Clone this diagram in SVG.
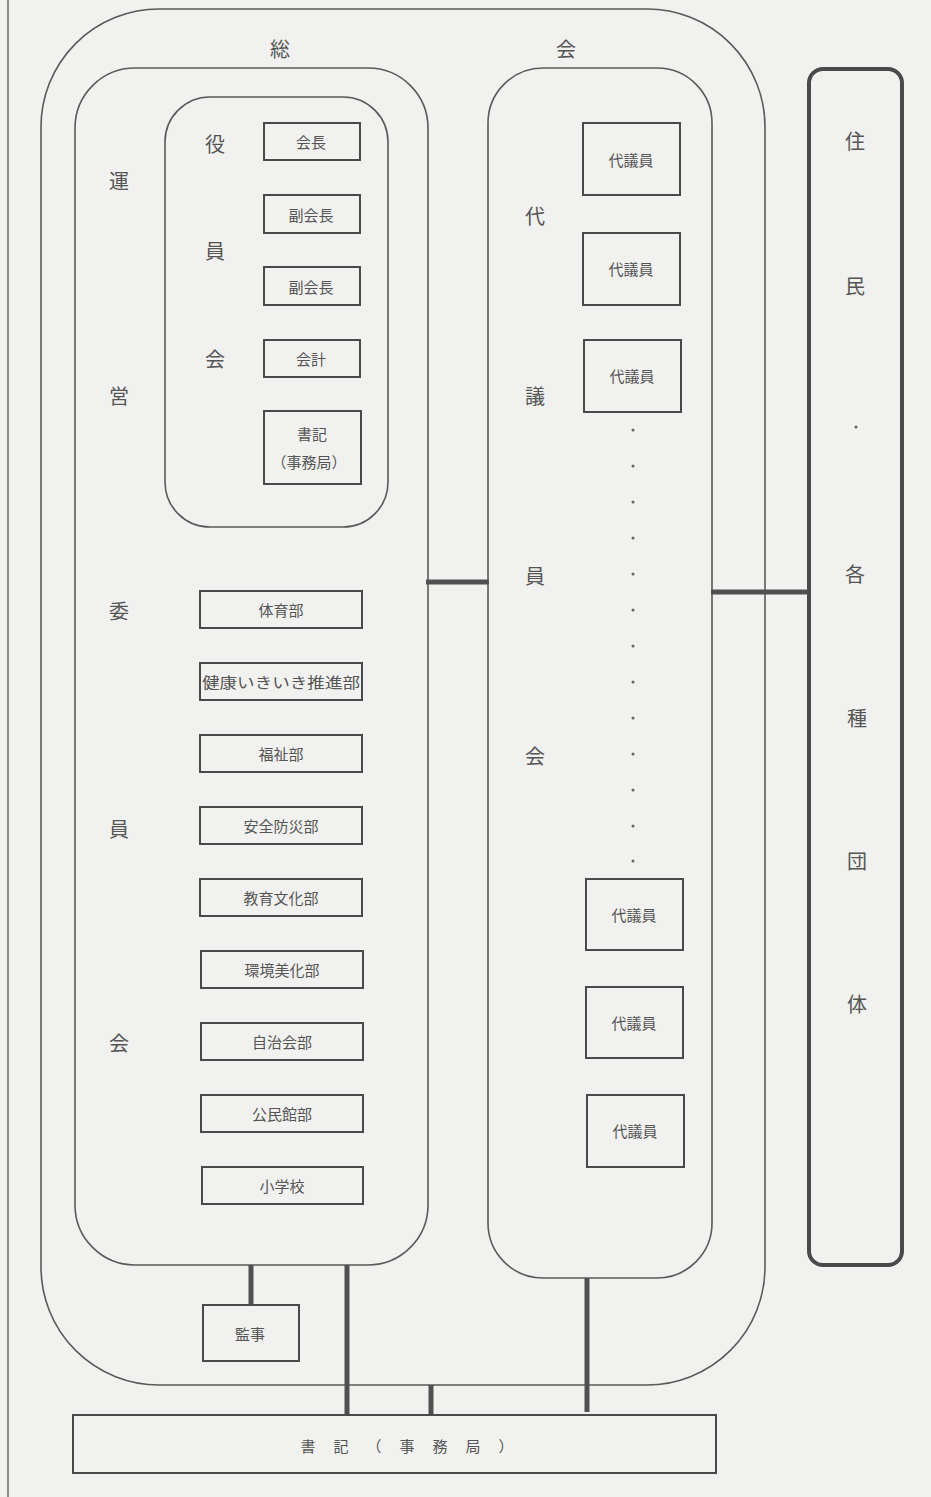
<svg xmlns="http://www.w3.org/2000/svg" width="931" height="1497" viewBox="0 0 931 1497">
<style>
.bg{fill:#f1f1ef}
.frame{fill:none;stroke:#666;stroke-width:1.5}
.rr{fill:none;stroke:#5a5a5a;stroke-width:1.6}
.box{fill:none;stroke:#4a4a4a;stroke-width:2}
.thick{fill:none;stroke:#4a4a4a;stroke-width:4}
.conn{stroke:#505050;stroke-width:5;fill:none}
.lab{font-family:"Noto Sans CJK JP","Noto Sans",sans-serif;font-size:20px;fill:#555;text-anchor:middle;dominant-baseline:central}
.t{font-family:"Noto Sans CJK JP","Noto Sans",sans-serif;font-size:15px;fill:#555;text-anchor:middle;dominant-baseline:central}
.dot{fill:#666}
</style>
<rect class="bg" x="0" y="0" width="931" height="1497"/>
<line class="frame" x1="8" y1="0" x2="8" y2="1497"/>

<g id="soukai">
<rect class="rr" x="41" y="9" width="724" height="1376" rx="118" ry="118"/>
<text class="lab" x="280" y="48">総</text>
<text class="lab" x="566" y="48">会</text>
</g>

<g id="unei">
<rect class="rr" x="75" y="68" width="353" height="1197" rx="60" ry="60"/>
<text class="lab" x="119" y="180">運</text>
<text class="lab" x="119" y="395">営</text>
<text class="lab" x="119" y="610">委</text>
<text class="lab" x="119" y="828">員</text>
<text class="lab" x="119" y="1042">会</text>
</g>

<g id="yakuin">
<rect class="rr" x="165" y="97" width="223" height="430" rx="45" ry="45"/>
<text class="lab" x="215" y="143">役</text>
<text class="lab" x="215" y="250">員</text>
<text class="lab" x="215" y="358">会</text>
</g>

<g id="kaicho"><rect class="box" x="264" y="123" width="96" height="37"/><text class="t" x="311" y="141">会長</text></g>
<g id="fuku1"><rect class="box" x="264" y="195" width="96" height="38"/><text class="t" x="311" y="214">副会長</text></g>
<g id="fuku2"><rect class="box" x="264" y="267" width="96" height="38"/><text class="t" x="311" y="286">副会長</text></g>
<g id="kaikei"><rect class="box" x="264" y="340" width="96" height="37"/><text class="t" x="311" y="358">会計</text></g>
<g id="shoki1"><rect class="box" x="264" y="411" width="97" height="73"/><text class="t" x="312" y="433">書記</text><text class="t" x="309" y="461">（事務局）</text></g>

<g id="b1"><rect class="box" x="200" y="591" width="162" height="37"/><text class="t" x="281" y="609">体育部</text></g>
<g id="b2"><rect class="box" x="200" y="663" width="162" height="37"/><text class="t" x="281" y="681" textLength="158" lengthAdjust="spacingAndGlyphs">健康いきいき推進部</text></g>
<g id="b3"><rect class="box" x="200" y="735" width="162" height="37"/><text class="t" x="281" y="753">福祉部</text></g>
<g id="b4"><rect class="box" x="200" y="807" width="162" height="37"/><text class="t" x="281" y="825">安全防災部</text></g>
<g id="b5"><rect class="box" x="200" y="879" width="162" height="37"/><text class="t" x="281" y="897">教育文化部</text></g>
<g id="b6"><rect class="box" x="201" y="951" width="162" height="37"/><text class="t" x="282" y="969">環境美化部</text></g>
<g id="b7"><rect class="box" x="201" y="1023" width="162" height="37"/><text class="t" x="282" y="1041">自治会部</text></g>
<g id="b8"><rect class="box" x="201" y="1095" width="162" height="37"/><text class="t" x="282" y="1113">公民館部</text></g>
<g id="b9"><rect class="box" x="202" y="1167" width="161" height="37"/><text class="t" x="282" y="1185">小学校</text></g>

<g id="daigiin">
<rect class="rr" x="488" y="68" width="224" height="1210" rx="55" ry="55"/>
<text class="lab" x="535" y="215">代</text>
<text class="lab" x="535" y="395">議</text>
<text class="lab" x="535" y="575">員</text>
<text class="lab" x="535" y="755">会</text>
</g>
<g id="d1"><rect class="box" x="583" y="123" width="97" height="72"/><text class="t" x="631" y="159">代議員</text></g>
<g id="d2"><rect class="box" x="583" y="233" width="97" height="72"/><text class="t" x="631" y="268">代議員</text></g>
<g id="d3"><rect class="box" x="584" y="340" width="97" height="72"/><text class="t" x="632" y="375">代議員</text></g>
<g id="dots">
<circle class="dot" cx="633" cy="430" r="1.5"/><circle class="dot" cx="633" cy="466" r="1.5"/><circle class="dot" cx="633" cy="502" r="1.5"/><circle class="dot" cx="633" cy="538" r="1.5"/><circle class="dot" cx="633" cy="574" r="1.5"/><circle class="dot" cx="633" cy="610" r="1.5"/><circle class="dot" cx="633" cy="646" r="1.5"/><circle class="dot" cx="633" cy="682" r="1.5"/><circle class="dot" cx="633" cy="718" r="1.5"/><circle class="dot" cx="633" cy="754" r="1.5"/><circle class="dot" cx="633" cy="790" r="1.5"/><circle class="dot" cx="633" cy="826" r="1.5"/><circle class="dot" cx="633" cy="861" r="1.5"/>
</g>
<g id="d4"><rect class="box" x="586" y="879" width="97" height="71"/><text class="t" x="634" y="914">代議員</text></g>
<g id="d5"><rect class="box" x="586" y="987" width="97" height="71"/><text class="t" x="634" y="1022">代議員</text></g>
<g id="d6"><rect class="box" x="587" y="1095" width="97" height="72"/><text class="t" x="635" y="1130">代議員</text></g>

<g id="jumin">
<rect class="thick" x="809" y="69" width="93" height="1196" rx="14" ry="14"/>
<text class="lab" x="855" y="140">住</text>
<text class="lab" x="855" y="285">民</text>
<circle class="dot" cx="856" cy="427" r="1.6"/>
<text class="lab" x="855" y="573">各</text>
<text class="lab" x="857" y="717">種</text>
<text class="lab" x="857" y="860">団</text>
<text class="lab" x="857" y="1003">体</text>
</g>

<g id="kanji"><rect class="box" x="203" y="1305" width="96" height="56"/><text class="t" x="250" y="1333">監事</text></g>

<g id="shoki2"><rect class="box" x="73" y="1415" width="643" height="58"/><text class="t" x="416" y="1445" letter-spacing="18">書記（事務局）</text></g>

<g id="connectors">
<line class="conn" x1="426" y1="582" x2="489" y2="582"/>
<line class="conn" x1="711" y1="592" x2="809" y2="592"/>
<line class="conn" x1="251" y1="1265" x2="251" y2="1305"/>
<line class="conn" x1="347" y1="1265" x2="347" y2="1414"/>
<line class="conn" x1="431" y1="1385" x2="431" y2="1414"/>
<line class="conn" x1="587" y1="1278" x2="587" y2="1412"/>
</g>
</svg>
